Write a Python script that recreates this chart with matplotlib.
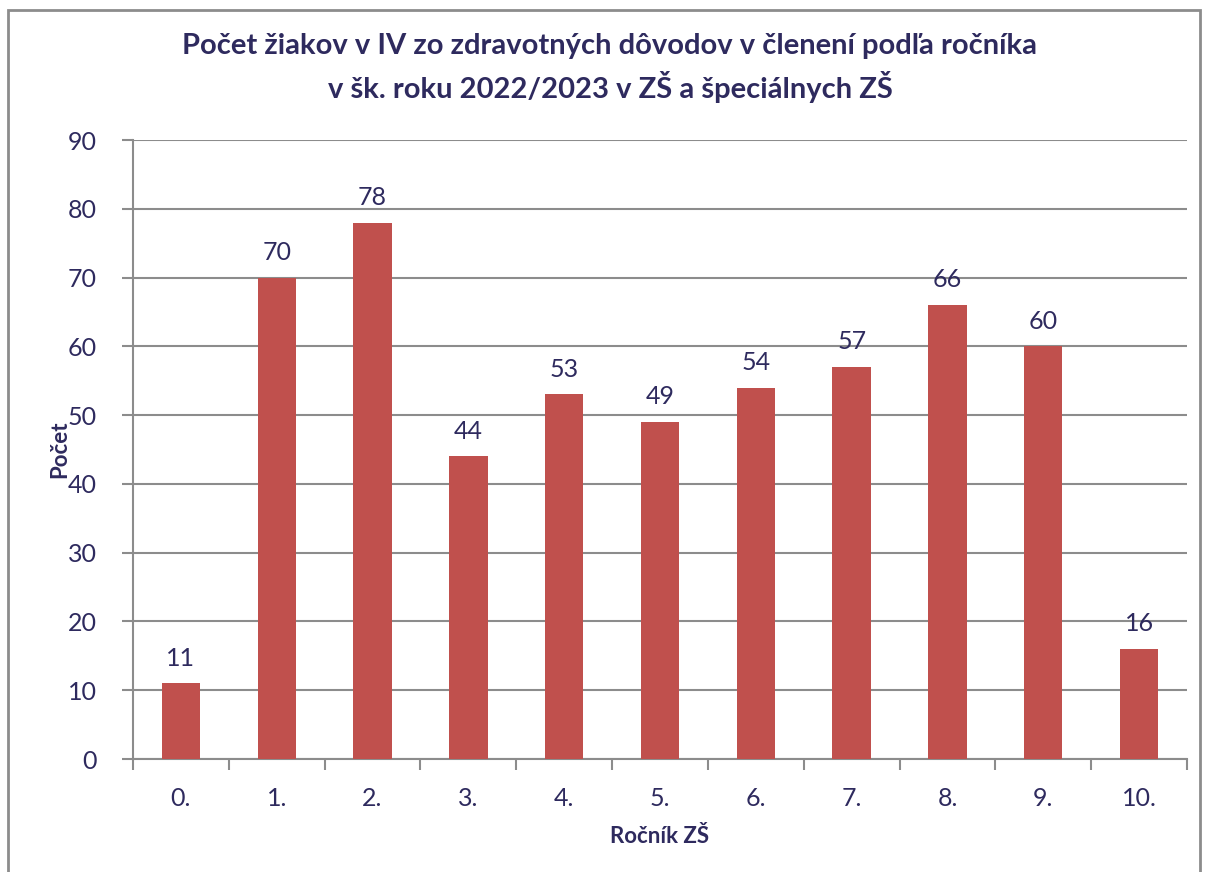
import numpy as np
import matplotlib.pyplot as plt
from matplotlib.patches import Rectangle

# data
categories = ["0.", "1.", "2.", "3.", "4.", "5.", "6.", "7.", "8.", "9.", "10."]
counts = [11, 70, 78, 44, 53, 49, 54, 57, 66, 60, 16]

textColor = "#2E2A5E"
barColor = "#C0504D"
gridColor = "#8C8C8C"

plt.rcParams["font.family"] = ["Lato", "DejaVu Sans"]

fig = plt.figure(figsize=(12.05, 8.72), dpi=100)
ax = fig.add_axes([133 / 1205, 1 - 759 / 872, (1187 - 133) / 1205, (759 - 140) / 872])

# outer chart border
fig.patches.append(Rectangle((8 / 1205, -0.01), (1200 - 8) / 1205, 1 - 10 / 872 + 0.01,
                             transform=fig.transFigure, fill=False,
                             edgecolor="#8C8C8C", linewidth=2))

x = np.arange(len(categories))
bars = ax.bar(x, counts, width=0.4, color=barColor, zorder=3)
for xi, v in zip(x, counts):
    ax.text(xi, v + 2.0, str(v), ha="center", va="bottom", fontsize=18, color=textColor)

ax.set_xlim(-0.5, len(categories) - 0.5)
ax.set_ylim(0, 90)
ax.set_yticks(range(0, 91, 10))
ax.set_xticks(x)
ax.set_xticklabels(categories)
ax.set_xticks(np.arange(-0.5, len(categories), 1), minor=True)
ax.tick_params(axis="x", which="major", length=0, pad=20, labelsize=18, labelcolor=textColor)
ax.tick_params(axis="x", which="minor", length=8, width=1.5, color=gridColor, direction="out")
ax.tick_params(axis="y", length=8, width=1.5, color=gridColor, pad=18, labelsize=18, labelcolor=textColor)

ax.yaxis.grid(True, color=gridColor, linewidth=1.5, zorder=0)
for side in ["top", "right"]:
    ax.spines[side].set_visible(False)
for side in ["left", "bottom"]:
    ax.spines[side].set_color(gridColor)
    ax.spines[side].set_linewidth(1.5)

ax.set_ylabel("Počet", fontsize=16, fontweight="bold", color=textColor)
ax.set_xlabel("Ročník ZŠ", fontsize=16, fontweight="bold", color=textColor)
ax.yaxis.set_label_coords((60 - 133) / (1187 - 133), 0.5)
ax.xaxis.set_label_coords(0.5, -(836 - 759) / (759 - 140))
ax.xaxis.label.set_va("center")
ax.yaxis.label.set_va("center")

fig.text(610 / 1205, 1 - 68 / 872,
         "Počet žiakov v IV zo zdravotných dôvodov v členení podľa ročníka\nv šk. roku 2022/2023 v ZŠ a špeciálnych ZŠ",
         ha="center", va="center", fontsize=21, fontweight="bold", color=textColor, linespacing=1.45)

plt.savefig("out.png", dpi=100)
